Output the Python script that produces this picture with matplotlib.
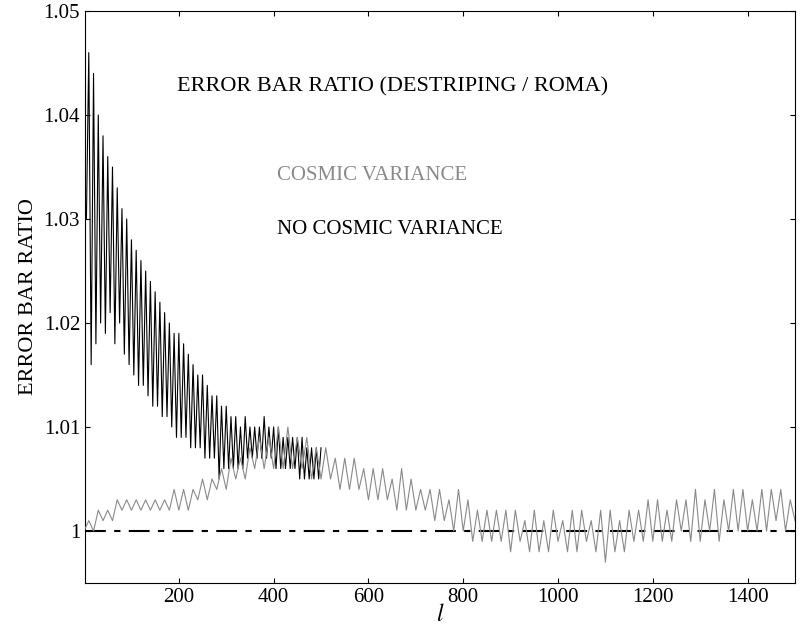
import matplotlib
matplotlib.use("Agg")
import matplotlib.pyplot as plt

plt.rcParams['font.family'] = ['Liberation Serif', 'DejaVu Serif']
plt.rcParams['mathtext.fontset'] = 'stix'

l_black = list(range(5, 505, 5))
ratio_black = [1.030,1.046,1.016,1.044,1.018,1.040,1.020,1.038,1.019,1.036,
1.021,1.035,1.018,1.033,1.020,1.031,1.017,1.030,1.016,1.028,
1.015,1.027,1.014,1.026,1.014,1.025,1.013,1.024,1.012,1.023,
1.012,1.022,1.011,1.021,1.011,1.020,1.010,1.019,1.009,1.019,
1.009,1.018,1.009,1.017,1.008,1.016,1.008,1.015,1.008,1.015,
1.007,1.014,1.007,1.013,1.007,1.013,1.005,1.012,1.006,1.012,
1.006,1.011,1.006,1.011,1.006,1.010,1.006,1.011,1.007,1.010,
1.007,1.010,1.007,1.010,1.007,1.011,1.007,1.010,1.007,1.010,
1.006,1.010,1.006,1.009,1.006,1.009,1.006,1.009,1.006,1.009,
1.005,1.009,1.005,1.008,1.005,1.008,1.005,1.008,1.005,1.008]

l_gray = list(range(0, 1510, 10))
ratio_gray = [1.000,1.001,1.000,1.002,1.001,1.002,1.001,1.003,1.002,1.003,
1.002,1.003,1.002,1.003,1.002,1.003,1.002,1.003,1.002,1.004,
1.002,1.004,1.002,1.004,1.003,1.005,1.003,1.005,1.004,1.006,
1.004,1.007,1.005,1.007,1.005,1.008,1.006,1.009,1.006,1.009,
1.006,1.010,1.006,1.010,1.006,1.009,1.006,1.009,1.005,1.008,
1.005,1.008,1.005,1.007,1.004,1.007,1.004,1.007,1.004,1.006,
1.003,1.006,1.003,1.006,1.003,1.005,1.002,1.006,1.002,1.005,
1.002,1.004,1.002,1.004,1.001,1.004,1.001,1.003,1.000,1.004,
1.000,1.003,0.999,1.002,0.999,1.002,0.999,1.002,0.999,1.002,
0.998,1.002,0.999,1.001,0.998,1.002,0.998,1.001,0.998,1.002,
0.999,1.001,0.998,1.002,0.998,1.002,0.999,1.001,0.998,1.002,
0.997,1.002,0.998,1.001,0.998,1.002,0.999,1.002,0.999,1.003,
0.999,1.003,0.999,1.002,0.999,1.003,1.000,1.003,0.999,1.004,
0.999,1.003,1.000,1.004,0.999,1.003,1.000,1.004,1.000,1.004,
1.000,1.003,1.000,1.004,1.000,1.004,1.001,1.004,1.000,1.003,1.001]

fig = plt.figure(figsize=(8, 6.37), dpi=100)
ax = fig.add_axes([85/800, 54/637, 710/800, 572/637])
ax.axhline(1.0, color='black', ls=(0, (10, 4, 3, 4)), lw=1.5, zorder=1)
ax.plot(l_black, ratio_black, color='black', lw=0.8, zorder=2)
ax.plot(l_gray, ratio_gray, color='#8a8a8a', lw=0.8, zorder=3)
ax.set_xlim(2, 1500)
ax.set_ylim(0.995, 1.05)
ax.set_xticks([200, 400, 600, 800, 1000, 1200, 1400])
ax.set_yticks([1, 1.01, 1.02, 1.03, 1.04, 1.05])
ax.set_yticklabels(['1', '1.01', '1.02', '1.03', '1.04', '1.05'])
ax.tick_params(direction='in', labelsize=15, top=True, right=True)
ax.set_xlabel('$l$', fontsize=17, labelpad=-2)
ax.set_ylabel('ERROR BAR RATIO', fontsize=16)
ax.text(0.13, 0.86, 'ERROR BAR RATIO (DESTRIPING / ROMA)', transform=ax.transAxes, fontsize=16)
ax.text(0.27, 0.705, 'COSMIC VARIANCE', transform=ax.transAxes, fontsize=15, color='#8a8a8a')
ax.text(0.27, 0.61, 'NO COSMIC VARIANCE', transform=ax.transAxes, fontsize=15, color='black')
fig.savefig('out.png', dpi=100)
